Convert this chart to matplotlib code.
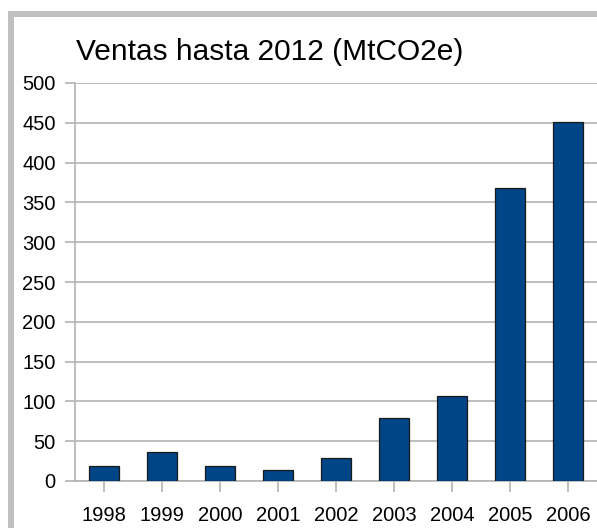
import matplotlib
matplotlib.use("Agg")
import matplotlib.pyplot as plt
from matplotlib.patches import Rectangle

years = ["1998", "1999", "2000", "2001", "2002", "2003", "2004", "2005", "2006"]
ventas = [19, 36, 19, 14, 29, 79, 107, 368, 451]
yticks = [0, 50, 100, 150, 200, 250, 300, 350, 400, 450, 500]
title = "Ventas hasta 2012 (MtCO2e)"

plt.rcParams['font.family'] = ['Liberation Sans', 'DejaVu Sans']

W, H = 597, 528
fig = plt.figure(figsize=(W / 100, H / 100), dpi=100)
fig.patch.set_facecolor('white')

# gray border (top and left)
fig.patches.append(Rectangle((8 / W, 0), 6 / W, 1 - 11 / H, transform=fig.transFigure,
                             facecolor='#c0c0c0', edgecolor='none'))
fig.patches.append(Rectangle((8 / W, 1 - 17 / H), 1, 6 / H, transform=fig.transFigure,
                             facecolor='#c0c0c0', edgecolor='none'))

ax = fig.add_axes([75 / W, 1 - 481 / H, 522 / W, (481 - 83) / H])
x = list(range(len(years)))
ax.bar(x, ventas, width=0.52, color='#004586', edgecolor='#1a1a1a', linewidth=0.9, zorder=3)
ax.set_xlim(-0.5, len(years) - 0.5)
ax.set_ylim(0, 500)
ax.set_yticks(yticks)
ax.set_xticks(x)
ax.set_xticklabels(years)
ax.yaxis.grid(True, color='#b3b3b3', linewidth=1.2, zorder=0)
ax.set_axisbelow(True)
for s in ['top', 'right']:
    ax.spines[s].set_visible(False)
for s in ['left', 'bottom']:
    ax.spines[s].set_color('#b3b3b3')
    ax.spines[s].set_linewidth(1.2)
ax.tick_params(axis='y', length=7, width=1.2, color='#b3b3b3', pad=7, labelsize=14.5)
ax.tick_params(axis='x', length=8, width=1.2, color='#b3b3b3', pad=10, labelsize=14.5)

fig.text(270 / W, 1 - 52 / H, title, ha='center', va='center', fontsize=21.5)

fig.savefig("out.png", dpi=100, facecolor='white')
